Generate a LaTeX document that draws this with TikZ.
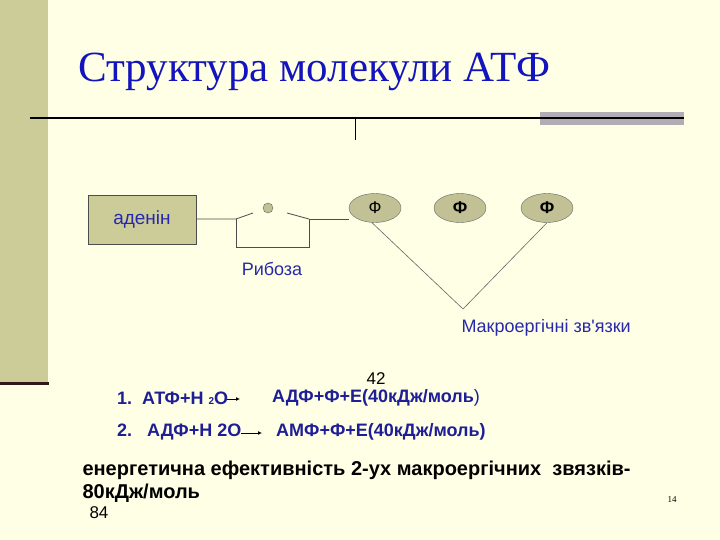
\documentclass[tikz,border=0pt]{standalone}
\usepackage{fontspec}
\setmainfont{Liberation Sans}
\newfontfamily\titlefont{Liberation Serif}
\newfontfamily\plainfont{Liberation Sans}
\usetikzlibrary{shapes.geometric, arrows.meta, positioning, calc}
\definecolor{slidebg}{RGB}{255,255,230}
\definecolor{khaki}{RGB}{204,204,153}
\definecolor{titleblue}{RGB}{20,20,190}
\definecolor{labelblue}{RGB}{40,40,170}
\definecolor{eqblue}{RGB}{30,30,150}
\definecolor{barline}{RGB}{51,26,26}
\definecolor{bargray}{RGB}{180,172,180}
\tikzset{
    basebox/.style={rectangle, minimum width=108pt, minimum height=49pt, text centered, draw=black!70, fill=khaki, font=\fontsize{19}{21}\selectfont, text=labelblue},
    phos/.style={ellipse, minimum width=52pt, minimum height=29pt, draw=black!60, fill=khaki!85!gray, font=\fontsize{17}{19}\selectfont},
    label/.style={text=labelblue, font=\plainfont\fontsize{18}{20}\selectfont},
    eq/.style={text=eqblue, anchor=west, inner sep=1pt, font=\bfseries\fontsize{18}{21}\selectfont},
    bond/.style={draw=black!70, line width=0.8pt}
}

\begin{document}
\begin{tikzpicture}[x=1pt, y=-1pt]
        % Slide background
        \fill[slidebg] (0,0) rectangle (720,540);
        \useasboundingbox (0,0) rectangle (720,540);
        \fill[khaki] (0,0) rectangle (48,382);
        \draw[barline, line width=3pt] (0,383) -- (49,383);
        \fill[bargray] (540,112) rectangle (684,125);
        \draw[line width=1.3pt] (30,118) -- (684,118);
        \draw[line width=0.8pt] (355,118) -- (355,140);

        % Title
        \node (title) [anchor=west, text=titleblue, font=\titlefont\fontsize{43}{48}\selectfont] at (75,72) {Структура молекули АТФ};

        % Adenine and ribose
        \node (adenine) [basebox] at (142,220) {аденін};
        \coordinate (r1) at (236,219);
        \coordinate (r2) at (309,219);
        \coordinate (r1up) at (253,213);
        \coordinate (r2up) at (287,213);
        \node (oxy) [circle, draw=black!60, fill=khaki!85!gray, minimum size=10pt, inner sep=0pt] at (268,208) {};
        \node (ribose) [label] at (272,269) {Рибоза};

        % Phosphates
        \node (p1) [phos] at (375,208) {Ф};
        \node (p2) [phos, font=\bfseries\fontsize{17}{19}\selectfont] at (460,208) {Ф};
        \node (p3) [phos, font=\bfseries\fontsize{17}{19}\selectfont] at (547,208) {Ф};
        \coordinate (vtip) at (463,309);
        \node (macro) [label, anchor=west] at (458,328) {Макроергічні зв'язки};

        % Bonds
        \draw[bond] (adenine.east |- r1) -- (r1) -- (r1up);
        \draw[bond] (r1) -- (236,247) -- (309,247) -- (r2) -- (p1.west |- r2);
        \draw[bond] (r2up) -- (r2);
        \draw[draw=black!60, line width=0.6pt] ($(p1.south)+(-3,0)$) -- (vtip) -- ($(p3.south)+(0,0)$);

        % Reactions
        \node (n42) [inner sep=0pt, font=\fontsize{17}{19}\selectfont] at (376,379) {42};
        \node (eq1a) [eq] at (116,398) {1.\ \ АТФ+Н {\fontsize{10}{11}\selectfont 2}О};
        \node (eq1b) [eq] at (271,398) {АДФ+Ф+Е(40кДж/моль\mdseries)};
        \node (eq2a) [eq] at (116,432) {2.\ \ \ АДФ+Н 2О};
        \node (eq2b) [eq] at (275,432) {АМФ+Ф+Е(40кДж/моль)};
        \coordinate (arr1) at (240,399);
        \coordinate (arr2) at (262,433);
        \draw[-{Latex[length=4pt,width=4pt]}, line width=0.8pt] ([xshift=-2pt]eq1a.east |- arr1) -- (arr1);
        \draw[-{Latex[length=4pt,width=4pt]}, line width=0.8pt] ([xshift=-2pt]eq2a.east |- arr2) -- (arr2);

        % Summary
        \node (summary) [anchor=north west, align=left, font=\bfseries\fontsize{20}{23.5}\selectfont] at (79,457) {енергетична ефективність 2-ух макроергічних\ \ звязків-\\80кДж/моль};
        \node (n84) [font=\fontsize{17}{19}\selectfont] at (99,513) {84};
        \node (page) [font=\titlefont\fontsize{9}{10}\selectfont] at (672,500) {14};
    \end{tikzpicture}
\end{document}
